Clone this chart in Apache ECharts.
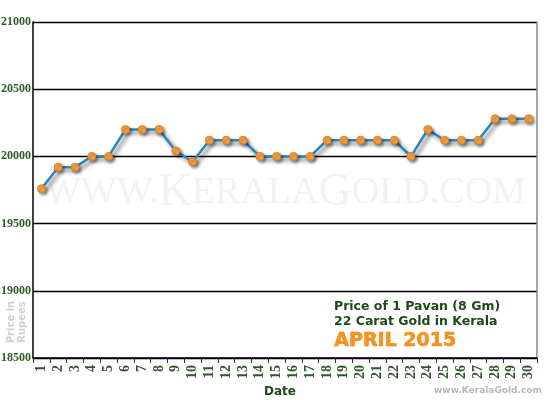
<!DOCTYPE html>
<html>
<head>
<meta charset="utf-8">
<script src="https://cdn.jsdelivr.net/npm/echarts@6/dist/echarts.min.js"></script>
<style>
  html, body { margin: 0; padding: 0; background: #fff; }
  #chart { width: 550px; height: 400px; }
</style>
</head>
<body>
<div id="chart"></div>
<script>
// April 2015, price of 1 pavan (8 gm) 22 carat gold
const dates = ['1', '2', '3', '4', '5', '6', '7', '8', '9', '10', '11', '12', '13', '14', '15',
    '16', '17', '18', '19', '20', '21', '22', '23', '24', '25', '26', '27', '28', '29', '30']
const prices = [19760, 19920, 19920, 20000, 20000, 20200, 20200, 20200, 20040, 19960,
    20120, 20120, 20120, 20000, 20000, 20000, 20000, 20120, 20120, 20120,
    20120, 20120, 20000, 20200, 20120, 20120, 20120, 20280, 20280, 20280]
const yMin = 18500
const yMax = 21000
const yStep = 500

const green = '#2d5a27'
const chart = echarts.init(document.getElementById('chart'))

chart.setOption({
    animation: false,
    grid: { left: 33, right: 13, top: 22, bottom: 42, containLabel: false, outerBoundsMode: 'none' },
    graphic: [
        {
            // watermark
            type: 'text', left: 45, top: 170, z: 0, silent: true,
            style: {
                text: '{s|WWW.}{b|K}{s|ERALA}{b|G}{s|OLD.COM}',
                rich: {
                    s: { fontFamily: 'Liberation Serif', fontSize: 38, fill: '#f2f2f2' },
                    b: { fontFamily: 'Liberation Serif', fontSize: 46, fill: '#f2f2f2' }
                }
            }
        },
        {
            type: 'text', x: 17, y: 322, rotation: Math.PI / 2, silent: true,
            style: {
                text: 'Price in\nRupees', fill: '#d0d0d0', font: 'bold 10px "DejaVu Sans"',
                align: 'center', verticalAlign: 'middle', lineHeight: 11
            }
        },
        {
            type: 'text', left: 334, top: 299,
            style: {
                text: 'Price of 1 Pavan (8 Gm)\n22 Carat Gold in Kerala', fill: '#1e4a18',
                font: 'bold 12.5px "DejaVu Sans"', lineHeight: 15
            }
        },
        {
            type: 'text', left: 334, top: 331,
            style: {
                text: 'APRIL 2015', fill: '#f7941d', stroke: '#e07810', lineWidth: 0.6,
                font: 'bold 19px "DejaVu Sans"', letterSpacing: 1
            }
        },
        {
            type: 'text', left: 264, top: 386,
            style: { text: 'Date', fill: '#1e4a18', font: 'bold 12px "DejaVu Sans"' }
        },
        {
            type: 'text', left: 434, top: 386,
            style: { text: 'www.KeralaGold.com', fill: '#b8b8b8', font: 'bold 9px "DejaVu Sans"' }
        }
    ],
    xAxis: {
        type: 'category',
        data: dates,
        boundaryGap: true,
        axisLine: { lineStyle: { color: '#000', width: 1.5 } },
        axisTick: { show: true, length: 5, lineStyle: { color: '#333' } },
        axisLabel: {
            rotate: 90, interval: 0, margin: 7,
            color: green, fontFamily: 'Liberation Serif', fontWeight: 'bold', fontSize: 14
        },
        splitLine: { show: false }
    },
    yAxis: [
        {
            type: 'value', min: yMin, max: yMax, interval: yStep,
            axisLine: { show: true, lineStyle: { color: '#000', width: 1.5 } },
            axisTick: { show: false },
            axisLabel: {
                margin: 2, color: green, fontFamily: 'Liberation Serif', fontWeight: 'bold', fontSize: 12,
                formatter: v => String(v)
            },
            splitLine: { lineStyle: { color: '#000', width: 1.3 } }
        },
        {
            type: 'value', min: yMin, max: yMax, interval: yStep, position: 'right',
            axisLine: { show: true, lineStyle: { color: '#888', width: 1.5 } },
            axisTick: { show: false }, axisLabel: { show: false }, splitLine: { show: false }
        }
    ],
    series: [{
        type: 'line',
        data: prices,
        z: 3,
        symbol: 'circle',
        symbolSize: 8,
        lineStyle: {
            color: '#2a86bd', width: 2.5,
            shadowColor: 'rgba(0,0,0,0.55)', shadowBlur: 4, shadowOffsetX: 3, shadowOffsetY: 3
        },
        itemStyle: {
            color: '#f8a446', borderColor: '#e57d1b', borderWidth: 1,
            shadowColor: 'rgba(0,0,0,0.4)', shadowBlur: 3, shadowOffsetX: 2, shadowOffsetY: 2
        }
    }]
})
</script>
</body>
</html>
